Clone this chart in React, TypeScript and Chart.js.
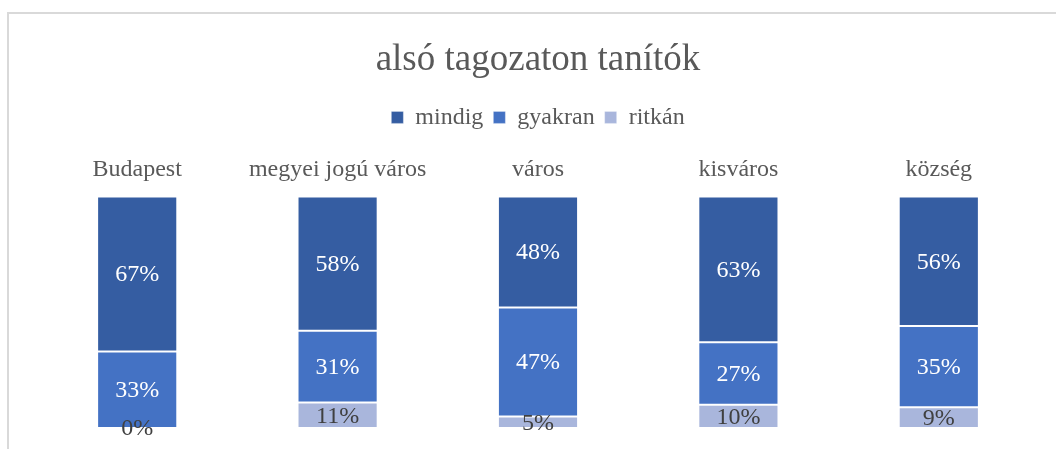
import React, { useEffect, useRef } from "react";
import { Chart, registerables } from "chart.js";

Chart.register(...registerables);

const titleText = "alsó tagozaton tanítók";
const categories = ["Budapest", "megyei jogú város", "város", "kisváros", "község"];
const mindig = [67, 58, 48, 63, 56];
const gyakran = [33, 31, 47, 27, 35];
const ritkan = [0, 11, 5, 10, 9];

const FONT = "'Liberation Serif', 'Times New Roman', serif";

const framePlugin = {
  id: "frame",
  beforeDraw(chart: any) {
    const ctx = chart.ctx;
    ctx.save();
    ctx.fillStyle = "#ffffff";
    ctx.fillRect(0, 0, chart.width, chart.height);
    ctx.strokeStyle = "#D9D9D9";
    ctx.lineWidth = 2;
    ctx.beginPath();
    ctx.moveTo(8, chart.height + 5);
    ctx.lineTo(8, 13);
    ctx.lineTo(chart.width + 5, 13);
    ctx.stroke();
    ctx.restore();
  },
};

const labelPlugin = {
  id: "barLabels",
  afterDatasetsDraw(chart: any) {
    const ctx = chart.ctx;
    ctx.save();
    ctx.font = `24px ${FONT}`;
    ctx.textAlign = "center";
    ctx.textBaseline = "middle";
    chart.data.datasets.forEach((ds: any, i: number) => {
      const meta = chart.getDatasetMeta(i);
      meta.data.forEach((bar: any, j: number) => {
        const v = ds.data[j];
        const y = (bar.y + bar.base) / 2;
        ctx.fillStyle = ds.labelColor;
        ctx.fillText(`${v}%`, bar.x, y + 1);
      });
    });
    ctx.restore();
  },
};

export default function App() {
  const ref = useRef<HTMLCanvasElement>(null);
  useEffect(() => {
    if (!ref.current) return;
    const chart = new Chart(ref.current, {
      type: "bar",
      data: {
        labels: categories,
        datasets: [
          {
            label: "ritkán",
            data: ritkan,
            backgroundColor: "#A9B6DC",
            borderColor: "rgba(255,255,255,0.3)",
            borderWidth: 1,
            borderSkipped: false,
            labelColor: "#404040",
          } as any,
          {
            label: "gyakran",
            data: gyakran,
            backgroundColor: "#4472C4",
            borderColor: "rgba(255,255,255,0.3)",
            borderWidth: 1,
            borderSkipped: false,
            labelColor: "#ffffff",
          } as any,
          {
            label: "mindig",
            data: mindig,
            backgroundColor: "#355DA2",
            borderColor: "rgba(255,255,255,0.3)",
            borderWidth: 1,
            borderSkipped: false,
            labelColor: "#ffffff",
          } as any,
        ],
      },
      options: {
        animation: false,
        responsive: false,
        maintainAspectRatio: false,
        devicePixelRatio: 1,
        layout: { padding: { left: 37, right: 17, bottom: 21, top: 2 } },
        datasets: { bar: { categoryPercentage: 1, barPercentage: 0.4 } },
        plugins: {
          title: {
            display: true,
            text: titleText,
            color: "#595959",
            font: { family: FONT, size: 37, weight: "normal" },
            padding: { top: 36, bottom: 13 },
          },
          legend: {
            display: true,
            position: "top",
            reverse: true,
            labels: {
              boxWidth: 12,
              boxHeight: 12,
              padding: 10,
              color: "#595959",
              font: { family: FONT, size: 24 },
            },
          },
          tooltip: { enabled: false },
        },
        scales: {
          x: {
            position: "top",
            stacked: true,
            grid: { display: false, drawTicks: false },
            border: { display: false },
            title: {
              display: true,
              text: "",
              font: { size: 1 },
              padding: { top: 0, bottom: 3 },
            },
            ticks: {
              color: "#595959",
              font: { family: FONT, size: 24 },
              padding: 12,
              maxRotation: 0,
              autoSkip: false,
            },
          },
          y: {
            display: false,
            stacked: true,
            min: 0,
            max: 100,
          },
        },
      },
      plugins: [framePlugin, labelPlugin],
    });
    return () => chart.destroy();
  }, []);
  return (
    <div style={{ position: "fixed", left: 0, top: 0, width: 1056, height: 449 }}>
      <canvas ref={ref} width={1056} height={449} style={{ width: 1056, height: 449, display: "block" }} />
    </div>
  );
}
